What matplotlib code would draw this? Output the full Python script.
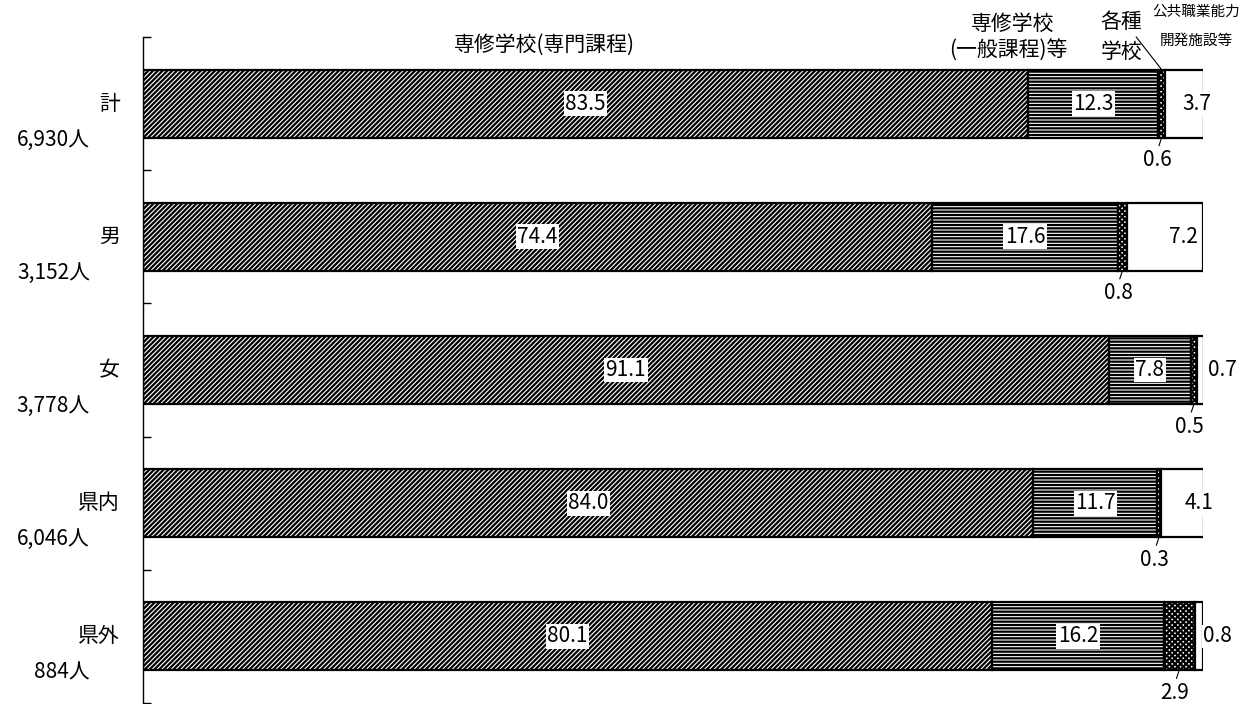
import matplotlib.pyplot as plt
import numpy as np

plt.rcParams['font.family'] = ['Noto Sans CJK JP', 'DejaVu Sans']
plt.rcParams['hatch.linewidth'] = 1.6

rows = ["計", "男", "女", "県内", "県外"]
counts = ["6,930人", "3,152人", "3,778人", "6,046人", "884人"]
senmon = [83.5, 74.4, 91.1, 84.0, 80.1]
ippan = [12.3, 17.6, 7.8, 11.7, 16.2]
kakushu = [0.6, 0.8, 0.5, 0.3, 2.9]
kokyo = [3.7, 7.2, 0.7, 4.1, 0.8]

# placement of the last segment's label: (offset from 100 in %, ha)
last_pos = [(-0.6, "center"), (-0.5, "right"), (0.5, "left"), (-0.4, "center"), (0.0, "left")]

fig = plt.figure(figsize=(12.48, 7.04), dpi=100)
ax = fig.add_axes([143 / 1248, 1 / 704, 1060 / 1248, 666 / 704])

y = np.arange(len(rows))
h = 0.51
series = [senmon, ippan, kakushu, kokyo]
hatches = ["///////", "-----", "xxxxxx", ""]
left = np.zeros(len(rows))
for vals, hatch in zip(series, hatches):
    ax.barh(y, vals, left=left, height=h, color="white", edgecolor="black",
            hatch=hatch, linewidth=1.6)
    left = left + np.array(vals)

box = dict(facecolor="white", edgecolor="none", pad=1.0)
fs = 15
for i in range(len(rows)):
    ax.text(senmon[i] / 2, i, f"{senmon[i]:.1f}", ha="center", va="center",
            fontsize=fs, bbox=box)
    ax.text(senmon[i] + ippan[i] / 2, i, f"{ippan[i]:.1f}", ha="center",
            va="center", fontsize=fs, bbox=box)
    c = senmon[i] + ippan[i] + kakushu[i] / 2
    bottom = i + h / 2
    ax.plot([c, c - 0.25], [bottom, bottom + 0.06], color="black", lw=0.8,
            clip_on=False)
    ax.text(c - 0.4, bottom + 0.17, f"{kakushu[i]:.1f}", ha="center",
            va="center", fontsize=fs)
    dx, ha = last_pos[i]
    ax.text(100 + dx, i, f"{kokyo[i]:.1f}", ha=ha, va="center", fontsize=fs,
            bbox=dict(facecolor="white", edgecolor="none", pad=0.5),
            clip_on=False)
    ax.text(-2.2, i, rows[i], ha="right", va="center", fontsize=fs)
    ax.text(-5.0, i + 0.27, counts[i], ha="right", va="center", fontsize=fs)

# headers
ax.text(37.9, -0.44, "専修学校(専門課程)", ha="center", va="center", fontsize=fs)
ax.text(82.0, -0.6, "専修学校", ha="center", va="center", fontsize=fs)
ax.text(81.6, -0.4, "(一般課程)等", ha="center", va="center", fontsize=fs)
ax.text(92.3, -0.61, "各種", ha="center", va="center", fontsize=fs)
ax.text(92.3, -0.39, "学校", ha="center", va="center", fontsize=fs)
ax.text(99.4, -0.69, "公共職業能力", ha="center", va="center", fontsize=10.5)
ax.text(99.4, -0.47, "開発施設等", ha="center", va="center", fontsize=10.5)
c0 = senmon[0] + ippan[0] + kakushu[0] / 2
ax.plot([93.7, c0], [-0.5, -0.5 + (1 - h) / 2], color="black", lw=0.8,
        clip_on=False)

ax.set_xlim(0, 100)
ax.set_ylim(len(rows) - 0.5, -0.5)
for s in ["top", "right", "bottom"]:
    ax.spines[s].set_visible(False)
ax.spines["left"].set_linewidth(1.0)
ax.set_xticks([])
ax.set_yticks(np.arange(len(rows) + 1) - 0.5)
ax.set_yticklabels([])
ax.tick_params(axis="y", direction="in", length=6, width=1.0)

fig.savefig("out.png", dpi=100)
